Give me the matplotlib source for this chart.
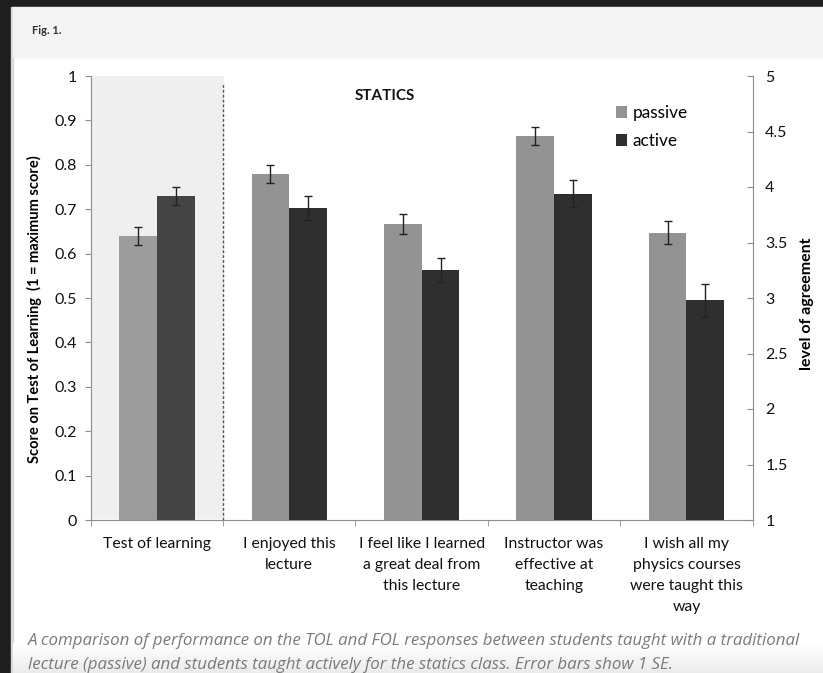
import numpy as np
import matplotlib
matplotlib.use('Agg')
from matplotlib import pyplot as plt
from matplotlib.patches import Rectangle

# data
categories = ['Test of learning', 'I enjoyed this\nlecture', 'I feel like I learned\na great deal from\nthis lecture',
              'Instructor was\neffective at\nteaching', 'I wish all my\nphysics courses\nwere taught this\nway']
tol_passive, tol_active = 0.64, 0.73
tol_passive_se, tol_active_se = 0.02, 0.02
fol_passive = [4.12, 3.67, 4.46, 3.59]
fol_active = [3.81, 3.25, 3.94, 2.98]
fol_passive_se = [0.08, 0.09, 0.08, 0.105]
fol_active_se = [0.11, 0.11, 0.12, 0.15]
left_ticks = [0, 0.1, 0.2, 0.3, 0.4, 0.5, 0.6, 0.7, 0.8, 0.9, 1]
left_ticklabels = ['0', '0.1', '0.2', '0.3', '0.4', '0.5', '0.6', '0.7', '0.8', '0.9', '1']
right_ticks = [1, 1.5, 2, 2.5, 3, 3.5, 4, 4.5, 5]
right_ticklabels = ['1', '1.5', '2', '2.5', '3', '3.5', '4', '4.5', '5']
caption = ('A comparison of performance on the TOL and FOL responses between students taught with a traditional\n'
           'lecture (passive) and students taught actively for the statics class. Error bars show 1 SE.')

plt.rcParams['font.family'] = ['Lato', 'DejaVu Sans']

W, H = 823, 673
fig = plt.figure(figsize=(W / 100, H / 100), dpi=100)
fig.patch.set_facecolor('white')


def px_rect(x0, y0, x1, y1, color):
    # rectangle in pixel coords (y from top)
    fig.patches.append(Rectangle((x0 / W, 1 - y1 / H), (x1 - x0) / W, (y1 - y0) / H,
                                 transform=fig.transFigure, color=color, zorder=-10))


# page frame
px_rect(0, 0, W, 7, '#1e1e1e')
px_rect(0, 0, 11, H, '#1e1e1e')
px_rect(11, 7, 13, H, '#d9d9d9')
px_rect(13, 7, W, 57, '#f4f4f4')
# soft fade at the bottom
grad_ax = fig.add_axes([13 / W, 0, (W - 13) / W, 30 / H], zorder=-5)
grad_ax.imshow(np.linspace(1, 0.92, 50).reshape(-1, 1), cmap='gray', vmin=0, vmax=1,
               aspect='auto', extent=[0, 1, 0, 1])
grad_ax.axis('off')

fig.text(32 / W, 1 - 31 / H, 'Fig. 1.', fontsize=8, fontweight='bold', color='#333333', va='center')

ax = fig.add_axes([90.7 / W, 1 - 520 / H, 662 / W, 444 / H])
ax2 = ax.twinx()

x = np.arange(len(categories))
w = 0.285
passive_c, active_c = '#939393', '#2f2f2f'

ax.axvspan(-0.5, 0.5, ymin=0.004, color='#efefef', zorder=0)
ax.axvline(0.5, ymin=0, ymax=0.985, color='#555555', lw=1, ls=(0, (2, 1.5)), zorder=1)

ax.bar(x[0] - w / 2, tol_passive, w, color='#9c9c9c', zorder=2)
ax.bar(x[0] + w / 2, tol_active, w, color='#444444', zorder=2)
ax.errorbar([x[0] - w / 2, x[0] + w / 2], [tol_passive, tol_active], yerr=[tol_passive_se, tol_active_se],
            fmt='none', ecolor='#222222', elinewidth=1, capsize=3, capthick=1, zorder=3)

bp = ax2.bar(x[1:] - w / 2, np.array(fol_passive) - 1, w, bottom=1, color=passive_c, label='passive', zorder=2)
ba = ax2.bar(x[1:] + w / 2, np.array(fol_active) - 1, w, bottom=1, color=active_c, label='active', zorder=2)
ax2.errorbar(x[1:] - w / 2, fol_passive, yerr=fol_passive_se, fmt='none', ecolor='#222222',
             elinewidth=1, capsize=3, capthick=1, zorder=3)
ax2.errorbar(x[1:] + w / 2, fol_active, yerr=fol_active_se, fmt='none', ecolor='#222222',
             elinewidth=1, capsize=3, capthick=1, zorder=3)

ax.set_xlim(-0.5, 4.5)
ax.set_ylim(0, 1)
ax2.set_ylim(1, 5)

spine_c = '#8c8c8c'
for a in (ax, ax2):
    for s in a.spines.values():
        s.set_color(spine_c)
    a.spines['top'].set_visible(False)
ax2.spines['left'].set_visible(False)
ax2.spines['bottom'].set_visible(False)
ax.spines['right'].set_visible(False)

ax.set_yticks(left_ticks)
ax.set_yticklabels(left_ticklabels)
ax.tick_params(axis='y', direction='out', length=4, color=spine_c, pad=6, labelsize=11.5, labelcolor='#111111')
ax2.set_yticks(right_ticks)
ax2.set_yticklabels(right_ticklabels)
ax2.tick_params(axis='y', direction='in', length=4, color=spine_c, pad=9, labelsize=11.5, labelcolor='#111111')

ax.set_xticks(x)
ax.set_xticklabels(categories, fontsize=11.3, linespacing=1.66, color='#111111')
ax.set_xticks(np.arange(-0.5, 5, 1), minor=True)
ax.tick_params(axis='x', which='major', length=0, pad=12)
ax.tick_params(axis='x', which='minor', length=4, color=spine_c, direction='out')

ax.set_ylabel('Score on Test of Learning  (1 = maximum score)', fontsize=10.5, fontweight='bold')
ax.yaxis.set_label_coords(-0.073, 0.474)
ax2.set_ylabel('level of agreement', fontsize=11.5, fontweight='bold', rotation=90)
ax2.yaxis.set_label_coords(1.071, 0.488)

ax.text(0.445, 0.955, 'STATICS', transform=ax.transAxes, ha='center', va='center',
        fontsize=11, fontweight='bold', color='#111111')

ax2.legend(handles=[bp, ba], loc='upper left', bbox_to_anchor=(0.783, 0.95), frameon=False,
           fontsize=12.4, handlelength=0.65, handleheight=0.65, handletextpad=0.3, labelspacing=0.7,
           borderaxespad=0)

fig.text(28 / W, 1 - 653 / H, caption, fontsize=12.2, style='italic', color='#7a7a7a',
         va='center', linespacing=1.7, family=['Open Sans', 'DejaVu Sans'])

fig.savefig('out.png', dpi=100)
